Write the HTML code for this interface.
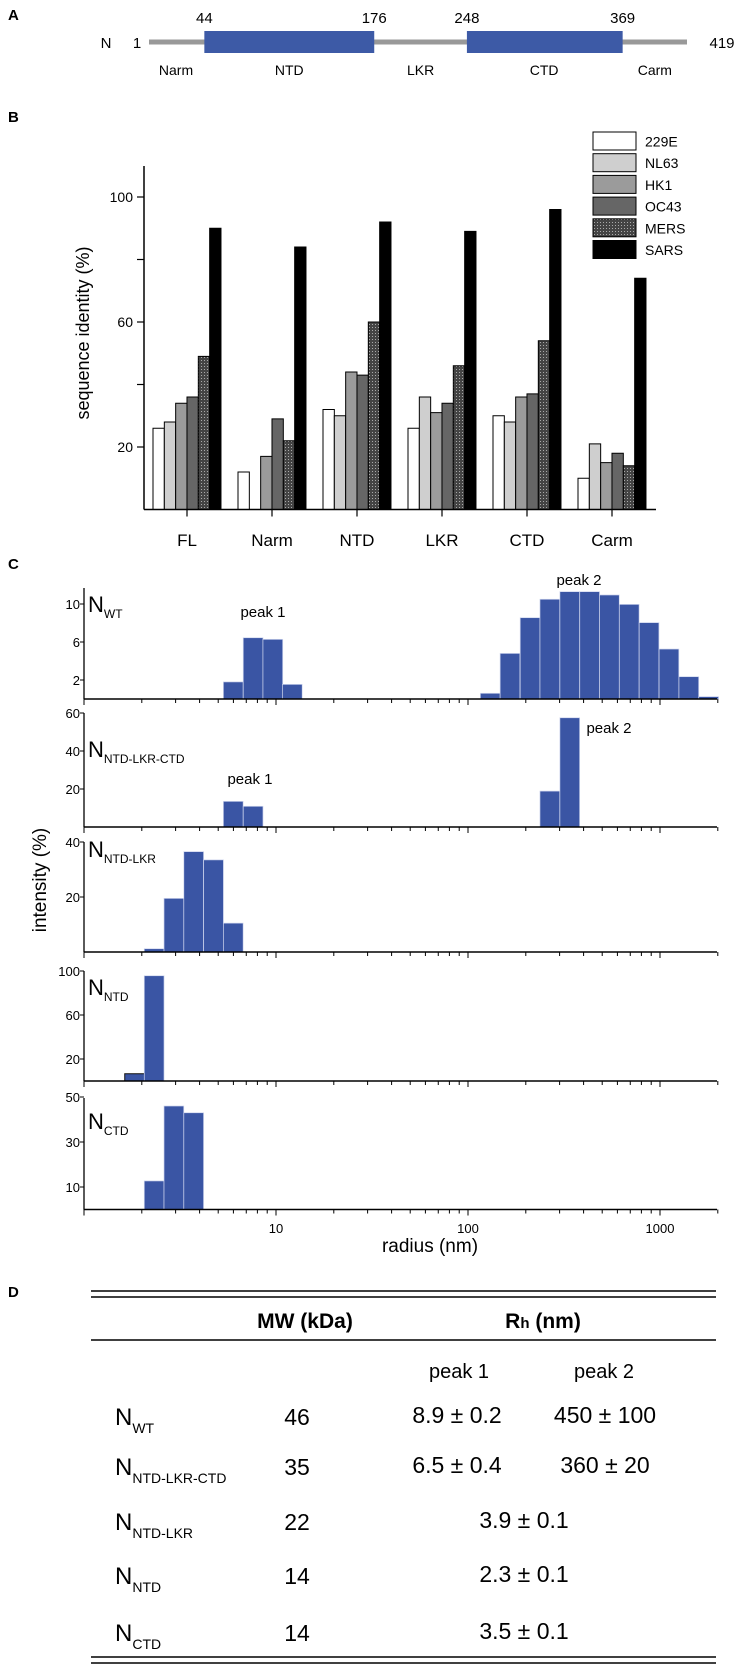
<!DOCTYPE html>
<html><head><meta charset="utf-8"><style>
html,body{margin:0;padding:0;background:#fff;}
svg{display:block;font-family:"Liberation Sans",Arial,sans-serif;}
</style></head><body>
<svg id="fig" width="737" height="1665" viewBox="0 0 737 1665" xmlns="http://www.w3.org/2000/svg">
<defs>
<pattern id="mers" width="3" height="3" patternUnits="userSpaceOnUse"><rect width="3" height="3" fill="#444"/><rect width="1" height="1" fill="#aaa"/></pattern>
</defs>
<g font-weight="bold" font-size="15">
<text x="8" y="20">A</text>
<text x="8" y="122">B</text>
<text x="8" y="569">C</text>
<text x="8" y="1297">D</text>
</g>
<g id="panelA"></g>
<g id="panelB"></g>
<g id="panelC"></g>
<g id="panelD" font-size="23">
<line x1="91" y1="1291" x2="716" y2="1291" stroke="#000" stroke-width="1.5"/>
<line x1="91" y1="1297" x2="716" y2="1297" stroke="#000" stroke-width="1.5"/>
<line x1="91" y1="1340" x2="716" y2="1340" stroke="#000" stroke-width="1.5"/>
<line x1="91" y1="1657" x2="716" y2="1657" stroke="#000" stroke-width="1.5"/>
<line x1="91" y1="1663" x2="716" y2="1663" stroke="#000" stroke-width="1.5"/>
<text x="305" y="1328" text-anchor="middle" font-weight="bold" font-size="21">MW (kDa)</text>
<text x="543" y="1328" text-anchor="middle" font-weight="bold" font-size="21">R<tspan font-size="15">h</tspan> (nm)</text>
<text x="459" y="1378" text-anchor="middle" font-size="20">peak 1</text>
<text x="604" y="1378" text-anchor="middle" font-size="20">peak 2</text>
</g>
</svg>
<script>
const svg=document.getElementById('fig');
const NS='http://www.w3.org/2000/svg';
function mk(tag,attrs,parent,txt){const e=document.createElementNS(NS,tag);for(const k in attrs)e.setAttribute(k,attrs[k]);if(txt!==undefined)e.textContent=txt;parent.appendChild(e);return e;}

// ---------- Panel A data ----------
const domainNames=['NTD','CTD'];
const domainStarts=[44,248];
const domainEnds=[176,369];
const regionLabels=['Narm','NTD','LKR','CTD','Carm'];
const regionMid=[22,110,212,308,394];
const seqLength=419;
// ---------- Panel B data ----------
const regions=['FL','Narm','NTD','LKR','CTD','Carm'];
const strains=['229E','NL63','HK1','OC43','MERS','SARS'];
const v229E=[26,12,32,26,30,10];
const vNL63=[28,0,30,36,28,21];
const vHK1=[34,17,44,31,36,15];
const vOC43=[36,29,43,34,37,18];
const vMERS=[49,22,60,46,54,14];
const vSARS=[90,84,92,89,96,74];
const yTicksB=[20,40,60,80,100];
const yLabelsB=['20','','60','','100'];
// ---------- Panel C data ----------
const wtRadius=[5.32,6.75,8.55,10.8,116,147,187,237,301,382,484,614,779,989,1255,1592];
const wtIntensity=[1.8,6.45,6.28,1.54,0.6,4.8,8.56,10.5,11.3,11.3,10.95,9.96,8.04,5.26,2.35,0.25];
const nlcRadius=[5.32,6.75,237,301];
const nlcIntensity=[13.5,10.9,18.9,57.5];
const nlRadius=[2.06,2.61,3.31,4.20,5.32];
const nlIntensity=[1.2,19.5,36.5,33.5,10.5];
const ntdRadius=[1.63,2.06];
const ntdIntensity=[6.6,95.7];
const ctdRadius=[2.06,2.61,3.31];
const ctdIntensity=[12.7,46,43];
const xTickLabelsC=['10','100','1000'];
const xTickValuesC=[10,100,1000];
// ---------- Panel D data ----------
const tblNames=[['N','WT'],['N','NTD-LKR-CTD'],['N','NTD-LKR'],['N','NTD'],['N','CTD']];
const tblMW=['46','35','22','14','14'];
const tblPeak1=['8.9 ± 0.2','6.5 ± 0.4','3.9 ± 0.1','2.3 ± 0.1','3.5 ± 0.1'];
const tblPeak2=['450 ± 100','360 ± 20','','',''];

// ===== Panel A =====
(function(){
const g=document.getElementById('panelA');
const xr=r=>149+(r-1)*(687-149)/(seqLength-1);
const line=mk('line',{x1:xr(1),y1:42,x2:xr(seqLength),y2:42,stroke:'#999','stroke-width':5},g);

mk('text',{x:106,y:48,'font-size':15,'text-anchor':'middle',},g,'N');
mk('text',{x:137,y:48,'font-size':15,'text-anchor':'middle',},g,'1');
mk('text',{x:722,y:48,'font-size':15,'text-anchor':'middle',},g,String(seqLength));
domainNames.forEach((d,i)=>{
  const x1=xr(domainStarts[i]),x2=xr(domainEnds[i]);
  const r=mk('rect',{x:x1,y:31,width:x2-x1,height:22,fill:'#3d5aa6'},g);
  
  mk('text',{x:x1,y:23,'font-size':15,'text-anchor':'middle',},g,String(domainStarts[i]));
  mk('text',{x:x2,y:23,'font-size':15,'text-anchor':'middle',},g,String(domainEnds[i]));
});
regionLabels.forEach((l,i)=>{
  const t=mk('text',{x:xr(regionMid[i]),y:75,'font-size':14,'text-anchor':'middle'},g,l);
  
});
})();

// ===== Panel B =====
(function(){
const g=document.getElementById('panelB');
const X0=144,BASE=509.5,PX=3.125;
const y=v=>BASE-v*PX;
const gx=i=>187+i*85;
const series=[v229E,vNL63,vHK1,vOC43,vMERS,vSARS];
const fills=['#fff','#cfcfcf','#9b9b9b','#666','url(#mers)','#000'];
const bw=11.33;
regions.forEach((reg,i)=>{
  series.forEach((s,j)=>{
    if(s[i]<=0)return;
    const r=mk('rect',{x:gx(i)-34+j*bw,y:y(s[i]),width:bw,height:s[i]*PX,fill:fills[j],stroke:'#000','stroke-width':1},g);
    
    
  });
  mk('line',{x1:gx(i),y1:BASE,x2:gx(i),y2:BASE+7,stroke:'#000','stroke-width':1.2,},g);
  const t=mk('text',{x:gx(i),y:546,'font-size':17,'text-anchor':'middle'},g,reg);
  
});
mk('line',{x1:X0,y1:166,x2:X0,y2:BASE,stroke:'#000','stroke-width':1.5,},g);
mk('line',{x1:X0,y1:BASE,x2:656,y2:BASE,stroke:'#000','stroke-width':1.5,},g);
yTicksB.forEach((v,i)=>{
  mk('line',{x1:X0-7,y1:y(v),x2:X0,y2:y(v),stroke:'#000','stroke-width':1.2,},g);
  if(yLabelsB[i]){const t=mk('text',{x:X0-11,y:y(v)+5,'font-size':14,'text-anchor':'end'},g,yLabelsB[i]);
  }
});
mk('text',{x:0,y:0,'font-size':18,'text-anchor':'middle',transform:'translate(89,333) rotate(-90)',},g,'sequence identity (%)');
strains.forEach((s,j)=>{
  const yy=132+j*21.7;
  const r=mk('rect',{x:593,y:yy,width:43,height:18,fill:fills[j],stroke:'#000','stroke-width':1},g);
  
  const t=mk('text',{x:645,y:yy+14.5,'font-size':14},g,s);
  
});
})();

// ===== Panel C =====
(function(){
const g=document.getElementById('panelC');
const X0=84,DEC=192,BW=0.103;
const xs=v=>X0+Math.log10(v)*DEC;
const panels=[
 {key:'wt',sub:'WT',r:wtRadius,v:wtIntensity,base:699,px:9.5,top:588,ticks:[2,6,10],ly:612},
 {key:'ntd-lkr-ctd',sub:'NTD-LKR-CTD',r:nlcRadius,v:nlcIntensity,base:827,px:1.9,top:713,ticks:[20,40,60],ly:757},
 {key:'ntd-lkr',sub:'NTD-LKR',r:nlRadius,v:nlIntensity,base:952,px:2.75,top:842,ticks:[20,40],ly:857},
 {key:'ntd',sub:'NTD',r:ntdRadius,v:ntdIntensity,base:1081,px:1.1,top:971,ticks:[20,60,100],ly:995},
 {key:'ctd',sub:'CTD',r:ctdRadius,v:ctdIntensity,base:1209.5,px:2.25,top:1098,ticks:[10,30,50],ly:1129}
];
panels.forEach(p=>{
  const pg=mk('g',{},g);
  p.r.forEach((rv,i)=>{
    const x1=xs(rv),x2=X0+(Math.log10(rv)+BW)*DEC;
    const h=p.v[i]*p.px;
    const outline=(p.key==='ntd'&&i===0);
    const r=mk('rect',{x:x1,y:p.base-h,width:x2-x1,height:h,fill:'#3a55a4',stroke:outline?'#111':'#cfd6ee','stroke-width':outline?1:0.7},pg);
    
  });
  mk('line',{x1:X0,y1:p.top,x2:X0,y2:p.base,stroke:'#000','stroke-width':1.3,},pg);
  mk('line',{x1:X0,y1:p.base,x2:717,y2:p.base,stroke:'#000','stroke-width':1.5,},pg);
  for(let d=0;d<4;d++){for(let m=1;m<=9;m++){const v=m*Math.pow(10,d);if(v>2000)break;
    const xx=xs(v);mk('line',{x1:xx,y1:p.base,x2:xx,y2:p.base+(m===1?6:4),stroke:'#000','stroke-width':1,},pg);}}
  p.ticks.forEach(t=>{
    const yy=p.base-t*p.px;
    mk('line',{x1:X0-4,y1:yy,x2:X0,y2:yy,stroke:'#000','stroke-width':1,},pg);
    const tx=mk('text',{x:X0-4,y:yy+5,'font-size':13,'text-anchor':'end'},pg,String(t));
    
  });
  const lab=mk('text',{x:88,y:p.ly,'font-size':22},pg);
  
  lab.appendChild(document.createTextNode('N'));
  const ts=mk('tspan',{'font-size':12,dy:6},lab,p.sub);
});
xTickValuesC.forEach((v,i)=>{
  const t=mk('text',{x:xs(v),y:1233,'font-size':13,'text-anchor':'middle'},g,xTickLabelsC[i]);
  
});
mk('text',{x:430,y:1252,'font-size':19,'text-anchor':'middle',},g,'radius (nm)');
mk('text',{x:0,y:0,'font-size':19,'text-anchor':'middle',transform:'translate(46,880) rotate(-90)',},g,'intensity (%)');
mk('text',{x:263,y:617,'font-size':15,'text-anchor':'middle',},g,'peak 1');
mk('text',{x:579,y:585,'font-size':15,'text-anchor':'middle',},g,'peak 2');
mk('text',{x:250,y:784,'font-size':15,'text-anchor':'middle',},g,'peak 1');
mk('text',{x:609,y:733,'font-size':15,'text-anchor':'middle',},g,'peak 2');
})();

// ===== Panel D =====
(function(){
const g=document.getElementById('panelD');
const rowY=[1425,1475,1530,1584,1641];
tblNames.forEach((n,i)=>{
  const t=mk('text',{x:115,y:rowY[i],'font-size':24},g);
  
  t.appendChild(document.createTextNode(n[0]));
  mk('tspan',{'font-size':14,dy:8},t,n[1]);
  const mw=mk('text',{x:297,y:rowY[i],'text-anchor':'middle'},g,tblMW[i]);
  
  if(tblPeak2[i]){
    const a=mk('text',{x:457,y:rowY[i]-2,'text-anchor':'middle'},g,tblPeak1[i]);
    
    const b=mk('text',{x:605,y:rowY[i]-2,'text-anchor':'middle'},g,tblPeak2[i]);
    
  } else {
    const a=mk('text',{x:524,y:rowY[i]-2,'text-anchor':'middle'},g,tblPeak1[i]);
    
  }
});
})();
</script>
</body></html>
